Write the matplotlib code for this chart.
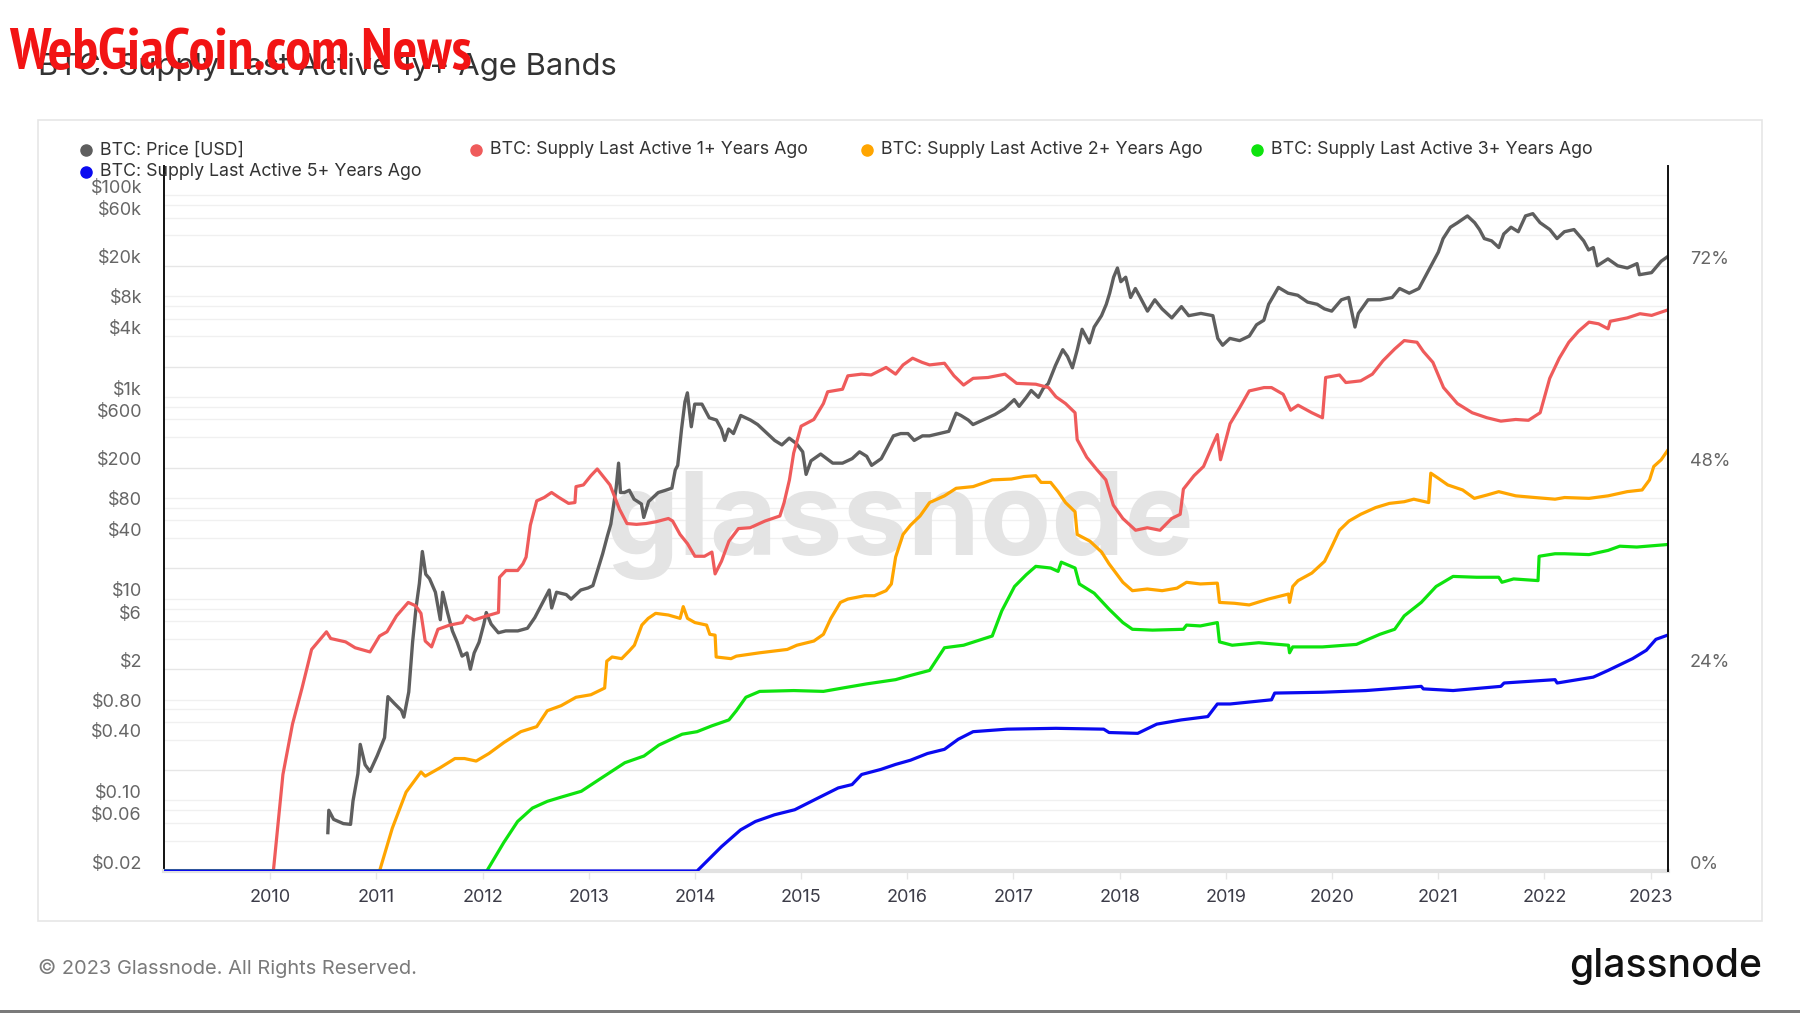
import matplotlib
matplotlib.use("Agg")
import matplotlib.pyplot as plt
from matplotlib.transforms import ScaledTranslation
from matplotlib.patches import Rectangle
from matplotlib.lines import Line2D
from matplotlib import font_manager

plt.rcParams['font.family'] = ['Inter', 'DejaVu Sans']

# ---------------- data (decimal years) ----------------
price_years = [2010.543, 2010.552, 2010.597, 2010.689, 2010.757, 2010.780, 2010.826, 2010.848, 2010.894,
               2010.940, 2011.008, 2011.077, 2011.109, 2011.168, 2011.236, 2011.259, 2011.305, 2011.341,
               2011.373, 2011.405, 2011.433, 2011.465, 2011.501, 2011.556, 2011.602, 2011.624, 2011.670,
               2011.716, 2011.761, 2011.807, 2011.853, 2011.885, 2011.921, 2011.967, 2012.012, 2012.035,
               2012.081, 2012.149, 2012.218, 2012.332, 2012.423, 2012.492, 2012.560, 2012.628, 2012.651,
               2012.697, 2012.788, 2012.834, 2012.925, 2012.994, 2013.039, 2013.085, 2013.131, 2013.176,
               2013.208, 2013.236, 2013.258, 2013.281, 2013.299, 2013.336, 2013.382, 2013.427, 2013.496,
               2013.518, 2013.564, 2013.655, 2013.724, 2013.783, 2013.815, 2013.838, 2013.874, 2013.906,
               2013.929, 2013.966, 2013.998, 2014.066, 2014.135, 2014.203, 2014.249, 2014.281, 2014.317,
               2014.363, 2014.431, 2014.523, 2014.591, 2014.659, 2014.751, 2014.819, 2014.888, 2014.956,
               2015.015, 2015.047, 2015.093, 2015.184, 2015.298, 2015.390, 2015.481, 2015.550, 2015.618,
               2015.664, 2015.755, 2015.823, 2015.869, 2015.938, 2016.006, 2016.065, 2016.143, 2016.209,
               2016.300, 2016.391, 2016.460, 2016.505, 2016.574, 2016.619, 2016.711, 2016.825, 2016.916,
               2017.007, 2017.053, 2017.121, 2017.167, 2017.235, 2017.281, 2017.327, 2017.395, 2017.464,
               2017.509, 2017.555, 2017.601, 2017.646, 2017.715, 2017.760, 2017.829, 2017.874, 2017.906,
               2017.943, 2017.979, 2018.011, 2018.057, 2018.103, 2018.148, 2018.194, 2018.262, 2018.331,
               2018.399, 2018.491, 2018.582, 2018.650, 2018.765, 2018.878, 2018.924, 2018.970, 2019.038,
               2019.130, 2019.221, 2019.289, 2019.358, 2019.403, 2019.495, 2019.586, 2019.677, 2019.769,
               2019.860, 2019.928, 2019.997, 2020.088, 2020.157, 2020.216, 2020.248, 2020.339, 2020.453,
               2020.567, 2020.636, 2020.727, 2020.818, 2020.909, 2021.001, 2021.046, 2021.115, 2021.183,
               2021.275, 2021.343, 2021.389, 2021.434, 2021.503, 2021.571, 2021.617, 2021.686, 2021.754,
               2021.822, 2021.891, 2021.959, 2022.051, 2022.119, 2022.188, 2022.279, 2022.370, 2022.416,
               2022.461, 2022.498, 2022.598, 2022.690, 2022.781, 2022.872, 2022.895, 2023.009, 2023.100,
               2023.160]
price_usd = [0.048, 0.080, 0.065, 0.059, 0.058, 0.099, 0.184, 0.36, 0.226,
             0.194, 0.278, 0.42, 1.07, 0.92, 0.78, 0.67, 1.19, 3.7,
             8.05, 14.2, 29.4, 17.5, 15.8, 11.6, 6.2, 11.6, 7.3,
             4.8, 3.7, 2.7, 2.9, 2.0, 2.9, 3.7, 5.6, 7.3,
             5.6, 4.6, 4.8, 4.8, 5.1, 6.5, 8.9, 12.2, 8.1,
             11.6, 11.0, 9.9, 12.2, 12.8, 13.5, 19.4, 27.9, 42,
             55, 87, 125, 221, 113, 113, 119, 97, 87,
             64, 92, 113, 119, 125, 189, 210, 481, 895,
             1100, 507, 850, 850, 622, 591, 481, 371, 481,
             434, 656, 591, 533, 457, 371, 335, 391, 345,
             286, 171, 233, 272, 221, 221, 245, 286, 258,
             210, 245, 335, 412, 434, 434, 371, 412, 412,
             434, 457, 691, 656, 591, 533, 591, 670, 766,
             942, 807, 993, 1160, 993, 1220, 1355, 2050, 2945,
             2520, 1946, 2945, 4690, 3440, 4940, 6400, 8300, 10700,
             15400, 19000, 13900, 15400, 9700, 11900, 9700, 7100, 9200,
             7480, 6080, 7870, 6400, 6740, 6400, 3810, 3260, 3810,
             3620, 4020, 5200, 5770, 8300, 12200, 10700, 10200, 8730,
             8300, 7480, 7100, 9200, 9700, 4940, 6740, 9200, 9200,
             9700, 11900, 10700, 11900, 18000, 27300, 37200, 48200, 53500,
             62400, 53500, 45700, 37200, 35300, 30300, 41300, 48200, 43500,
             62400, 65700, 53500, 45700, 37200, 43500, 45700, 35300, 28700,
             30300, 20000, 23400, 20000, 19000, 21000, 16300, 17100, 22200,
             24600]

s1_years = [2009.0, 2010.03, 2010.12, 2010.21, 2010.30, 2010.39, 2010.53, 2010.57, 2010.71, 2010.80, 2010.94,
            2011.03, 2011.10, 2011.19, 2011.30, 2011.37, 2011.42, 2011.46, 2011.52, 2011.58, 2011.69,
            2011.81, 2011.85, 2011.92, 2012.04, 2012.15, 2012.16, 2012.22, 2012.33, 2012.38, 2012.41,
            2012.45, 2012.51, 2012.58, 2012.65, 2012.72, 2012.81, 2012.87, 2012.88, 2012.95, 2013.02,
            2013.08, 2013.13, 2013.20, 2013.24, 2013.29, 2013.36, 2013.45, 2013.54, 2013.63, 2013.75,
            2013.79, 2013.86, 2013.93, 2014.00, 2014.09, 2014.16, 2014.19, 2014.25, 2014.32, 2014.41,
            2014.52, 2014.66, 2014.80, 2014.84, 2014.89, 2014.93, 2015.00, 2015.12, 2015.21, 2015.25,
            2015.39, 2015.44, 2015.57, 2015.66, 2015.80, 2015.89, 2015.96, 2016.05, 2016.14, 2016.21,
            2016.35, 2016.44, 2016.53, 2016.62, 2016.76, 2016.92, 2017.03, 2017.21, 2017.33, 2017.40,
            2017.49, 2017.58, 2017.60, 2017.69, 2017.78, 2017.87, 2017.94, 2018.03, 2018.15, 2018.26,
            2018.38, 2018.49, 2018.57, 2018.60, 2018.70, 2018.79, 2018.88, 2018.92, 2018.95, 2019.04,
            2019.13, 2019.22, 2019.36, 2019.43, 2019.54, 2019.61, 2019.68, 2019.81, 2019.91, 2019.94,
            2020.07, 2020.13, 2020.27, 2020.38, 2020.48, 2020.59, 2020.68, 2020.80, 2020.86, 2020.95,
            2021.05, 2021.18, 2021.32, 2021.46, 2021.59, 2021.73, 2021.85, 2021.96, 2022.05, 2022.14,
            2022.23, 2022.32, 2022.42, 2022.51, 2022.60, 2022.62, 2022.78, 2022.90, 2023.01, 2023.15]
s1_pct = [0, 0, 11.5, 17.5, 21.8, 26.4, 28.5, 27.7, 27.3, 26.6, 26.1,
          28.0, 28.5, 30.4, 32.0, 31.6, 30.7, 27.4, 26.7, 28.8, 29.3,
          29.6, 30.4, 29.9, 30.4, 30.8, 35.0, 35.8, 35.8, 36.6, 37.4,
          41.2, 44.1, 44.5, 45.1, 44.5, 43.8, 43.9, 45.8, 46.0, 47.1,
          47.9, 47.1, 46.0, 44.7, 43.1, 41.4, 41.3, 41.4, 41.6, 42.0,
          41.7, 40.1, 39.0, 37.5, 37.5, 38.0, 35.4, 36.9, 39.3, 40.8,
          40.9, 41.7, 42.3, 43.9, 46.6, 49.8, 53.0, 53.8, 55.7, 57.1,
          57.4, 59.0, 59.2, 59.1, 60.0, 59.2, 60.3, 61.1, 60.6, 60.3,
          60.5, 59.0, 57.9, 58.7, 58.8, 59.2, 58.1, 58.0, 57.6, 56.5,
          55.7, 54.6, 51.4, 49.3, 47.9, 46.6, 43.6, 42.0, 40.6, 40.9,
          40.6, 42.0, 42.5, 45.5, 47.1, 48.2, 50.9, 52.0, 49.0, 53.3,
          55.2, 57.2, 57.6, 57.6, 56.8, 54.9, 55.5, 54.6, 54.0, 58.8,
          59.1, 58.2, 58.4, 59.2, 60.8, 62.2, 63.2, 63.0, 61.9, 60.6,
          57.6, 55.7, 54.6, 54.0, 53.6, 53.8, 53.7, 54.6, 58.7, 61.1,
          63.0, 64.3, 65.4, 65.2, 64.6, 65.5, 65.9, 66.4, 66.2, 66.8]

s2_years = [2009.0, 2011.03, 2011.15, 2011.28, 2011.42, 2011.46, 2011.60, 2011.74, 2011.83, 2011.94, 2012.06,
            2012.20, 2012.36, 2012.51, 2012.61, 2012.74, 2012.88, 2013.02, 2013.15, 2013.17, 2013.22,
            2013.31, 2013.38, 2013.43, 2013.50, 2013.56, 2013.63, 2013.75, 2013.86, 2013.89, 2013.93,
            2014.00, 2014.11, 2014.14, 2014.19, 2014.20, 2014.34, 2014.39, 2014.61, 2014.87, 2014.96,
            2015.12, 2015.21, 2015.28, 2015.37, 2015.44, 2015.60, 2015.69, 2015.80, 2015.85, 2015.89,
            2015.96, 2016.03, 2016.12, 2016.21, 2016.35, 2016.46, 2016.62, 2016.80, 2016.98, 2017.10,
            2017.21, 2017.26, 2017.35, 2017.42, 2017.49, 2017.58, 2017.60, 2017.72, 2017.83, 2017.90,
            2018.03, 2018.12, 2018.26, 2018.40, 2018.54, 2018.63, 2018.76, 2018.92, 2018.94, 2019.08,
            2019.22, 2019.40, 2019.59, 2019.60, 2019.63, 2019.68, 2019.81, 2019.93, 2020.00, 2020.07,
            2020.16, 2020.27, 2020.41, 2020.54, 2020.68, 2020.77, 2020.91, 2020.93, 2021.00, 2021.09,
            2021.23, 2021.34, 2021.46, 2021.57, 2021.73, 2021.91, 2022.10, 2022.19, 2022.42, 2022.60,
            2022.78, 2022.92, 2022.99, 2023.03, 2023.10, 2023.16]
s2_pct = [0, 0, 5.1, 9.4, 11.8, 11.3, 12.3, 13.4, 13.4, 13.1, 14.0,
          15.3, 16.6, 17.2, 19.1, 19.7, 20.7, 21.0, 21.8, 25.0, 25.5,
          25.3, 26.2, 26.9, 29.3, 30.1, 30.7, 30.5, 30.1, 31.5, 30.1,
          29.6, 29.3, 28.2, 28.1, 25.5, 25.3, 25.6, 26.0, 26.4, 26.9,
          27.4, 28.2, 30.1, 32.0, 32.4, 32.8, 32.8, 33.4, 34.2, 37.4,
          40.1, 41.2, 42.3, 43.9, 44.7, 45.6, 45.8, 46.6, 46.7, 47.0,
          47.1, 46.3, 46.3, 45.2, 43.9, 42.8, 40.1, 39.3, 38.0, 36.6,
          34.4, 33.4, 33.6, 33.4, 33.7, 34.4, 34.2, 34.3, 32.0, 31.9,
          31.7, 32.4, 33.0, 32.0, 33.9, 34.6, 35.5, 36.9, 38.7, 40.6,
          41.7, 42.5, 43.3, 43.8, 44.0, 44.3, 43.9, 47.4, 46.8, 46.0,
          45.4, 44.4, 44.8, 45.2, 44.7, 44.5, 44.3, 44.5, 44.4, 44.7,
          45.2, 45.4, 46.6, 48.2, 49.0, 50.1]

s3_years = [2009.0, 2012.04, 2012.20, 2012.33, 2012.47, 2012.61, 2012.74, 2012.93, 2013.11, 2013.34, 2013.52,
            2013.66, 2013.88, 2014.02, 2014.16, 2014.32, 2014.39, 2014.48, 2014.61, 2014.93, 2015.21,
            2015.39, 2015.62, 2015.89, 2016.03, 2016.21, 2016.35, 2016.53, 2016.80, 2016.89, 2017.01,
            2017.12, 2017.21, 2017.35, 2017.42, 2017.45, 2017.58, 2017.62, 2017.76, 2017.90, 2018.03,
            2018.12, 2018.31, 2018.60, 2018.63, 2018.76, 2018.92, 2018.94, 2019.06, 2019.31, 2019.59,
            2019.60, 2019.63, 2019.91, 2020.23, 2020.45, 2020.59, 2020.68, 2020.84, 2020.98, 2021.14,
            2021.36, 2021.57, 2021.60, 2021.71, 2021.94, 2021.95, 2022.10, 2022.19, 2022.42, 2022.60,
            2022.71, 2022.87, 2023.16]
s3_pct = [0, 0, 3.4, 5.9, 7.5, 8.3, 8.8, 9.5, 11.0, 12.9, 13.7,
          15.0, 16.3, 16.6, 17.3, 18.0, 19.1, 20.7, 21.4, 21.5, 21.4,
          21.8, 22.3, 22.8, 23.3, 23.9, 26.6, 26.9, 28.0, 31.0, 33.9,
          35.3, 36.3, 36.1, 35.7, 36.8, 36.1, 34.2, 33.1, 31.2, 29.6,
          28.8, 28.7, 28.8, 29.3, 29.2, 29.6, 27.3, 26.9, 27.2, 26.9,
          26.0, 26.7, 26.7, 27.0, 28.2, 28.8, 30.4, 32.0, 33.9, 35.1,
          35.0, 35.0, 34.4, 34.8, 34.6, 37.5, 37.8, 37.8, 37.7, 38.2,
          38.7, 38.6, 38.9]

s5_years = [2009.0, 2014.02, 2014.25, 2014.43, 2014.57, 2014.75, 2014.94, 2015.16, 2015.35, 2015.48, 2015.57,
            2015.75, 2015.89, 2016.03, 2016.19, 2016.35, 2016.48, 2016.62, 2016.94, 2017.40, 2017.85,
            2017.90, 2018.17, 2018.35, 2018.58, 2018.83, 2018.92, 2019.04, 2019.43, 2019.46, 2019.91,
            2020.32, 2020.84, 2020.86, 2021.14, 2021.59, 2021.62, 2022.10, 2022.12, 2022.46, 2022.60,
            2022.83, 2022.96, 2023.05, 2023.16]
s5_pct = [0, 0, 2.9, 4.9, 5.9, 6.7, 7.3, 8.7, 9.9, 10.3, 11.5,
          12.1, 12.7, 13.2, 14.0, 14.5, 15.7, 16.6, 16.9, 17.0, 16.9,
          16.5, 16.4, 17.5, 18.0, 18.4, 19.9, 19.9, 20.4, 21.2, 21.3,
          21.5, 22.0, 21.7, 21.5, 22.0, 22.4, 22.8, 22.4, 23.1, 23.9,
          25.3, 26.3, 27.6, 28.1]

year_ticks = list(range(2010, 2024))
price_ticks = [0.02, 0.06, 0.10, 0.40, 0.80, 2, 6, 10, 40, 80, 200, 600, 1000, 4000, 8000, 20000, 60000, 100000]
price_tick_labels = ['$0.02', '$0.06', '$0.10', '$0.40', '$0.80', '$2', '$6', '$10', '$40', '$80', '$200',
                     '$600', '$1k', '$4k', '$8k', '$20k', '$60k', '$100k']
pct_ticks = [0, 24, 48, 72]
pct_tick_labels = ['0%', '24%', '48%', '72%']

series_names = ['BTC: Price [USD]', 'BTC: Supply Last Active 1+ Years Ago', 'BTC: Supply Last Active 2+ Years Ago',
                'BTC: Supply Last Active 3+ Years Ago', 'BTC: Supply Last Active 5+ Years Ago']
colors = ['#5e5e5e', '#ef5b5b', '#ffa500', '#0ee30e', '#0a0af0']

# ---------------- figure ----------------
W, H = 1800, 1013
fig = plt.figure(figsize=(W / 100, H / 100), dpi=100)
fig.patch.set_facecolor('white')
renderer = fig.canvas.get_renderer()


def fx(px):
    return px / W


def fy(py):
    return 1 - py / H


def fit_width(txt, target_px):
    w = txt.get_window_extent(renderer=renderer).width
    if w > 0:
        txt.set_fontsize(txt.get_fontsize() * target_px / w)


def find_condensed_bold():
    best = None
    for f in font_manager.fontManager.ttflist:
        name = (f.name + ' ' + f.fname).lower()
        if ('condensed' in name or 'narrow' in name or 'cond' in name) and \
                (f.weight in ('bold', 700, 800, 900, 'heavy', 'black') or 'bold' in f.fname.lower()):
            if 'oblique' in f.fname.lower() or 'italic' in f.fname.lower():
                continue
            best = f.fname
            if 'narrow' in name:
                break
    return best


# card border
fig.patches.append(Rectangle((fx(38), fy(921)), fx(1762) - fx(38), fy(120) - fy(921),
                             transform=fig.transFigure, fill=False, edgecolor='#e6e6e6', linewidth=1.2, zorder=0))
# bottom dark strip
fig.patches.append(Rectangle((0, 0), 1, 3 / H, transform=fig.transFigure, facecolor='#7a7a7a',
                             edgecolor='none', zorder=0))

L, R, T, B = 164, 1668, 166, 871
ax = fig.add_axes([fx(L), fy(B), fx(R) - fx(L), fy(T) - fy(B)])
ax.set_yscale('log')
ax.set_xlim(2009.0, 2023.164)
ax.set_ylim(0.02, 195000)

# horizontal grid
for e in range(-2, 6):
    for m in (1, 2, 4, 6, 8):
        v = m * 10.0 ** e
        if 0.02 <= v <= 100000:
            ax.axhline(v, color='#e6e6e6' if m == 2 else '#f0f0f0', linewidth=1.0, zorder=0)

wm = ax.text(0.489, 0.49, 'glassnode', transform=ax.transAxes, fontsize=84, fontweight='bold',
             color='#e4e4e4', ha='center', va='center', zorder=0.5)
fit_width(wm, 589)

ax.plot(price_years, price_usd, color=colors[0], linewidth=2.4, zorder=2, solid_joinstyle='round')

ax.set_yticks(price_ticks)
ax.set_yticklabels(price_tick_labels)
ax.yaxis.set_minor_locator(matplotlib.ticker.NullLocator())
ax.tick_params(axis='y', length=0, pad=15.8, labelsize=13, labelcolor='#666666')
ax.set_xticks(year_ticks)
ax.set_xticklabels([str(y) for y in year_ticks])
ax.tick_params(axis='x', length=6, width=1, color='#e6e6e6', pad=7, labelsize=13, labelcolor='#3c3c48')

for sp in ('top', 'right'):
    ax.spines[sp].set_visible(False)
ax.spines['left'].set_color('#111111')
ax.spines['left'].set_linewidth(1.4)
ax.spines['bottom'].set_color('#e2e2e2')
ax.spines['bottom'].set_linewidth(3)

ax2 = ax.twinx()
ax2.set_ylim(0, 84)
ax2.plot(s1_years, s1_pct, color=colors[1], linewidth=2.3, solid_joinstyle='round')
ax2.plot(s2_years, s2_pct, color=colors[2], linewidth=2.3, solid_joinstyle='round')
ax2.plot(s3_years, s3_pct, color=colors[3], linewidth=2.3, solid_joinstyle='round')
ax2.plot(s5_years, s5_pct, color=colors[4], linewidth=2.3, solid_joinstyle='round')
ax2.set_yticks(pct_ticks)
ax2.set_yticklabels(pct_tick_labels)
ax2.tick_params(axis='y', length=0, pad=15.8, labelsize=13, labelcolor='#666666')
for sp in ('top', 'left', 'bottom'):
    ax2.spines[sp].set_visible(False)
ax2.spines['right'].set_color('#111111')
ax2.spines['right'].set_linewidth(1.4)

off = ScaledTranslation(0, 9 / 100, fig.dpi_scale_trans)
for lab in ax.get_yticklabels() + ax2.get_yticklabels():
    lab.set_transform(lab.get_transform() + off)

# legend (manual)
legend_pos = [(86, 150), (476, 150), (867, 150), (1257, 150), (86, 172)]
for (px, py), name, c in zip(legend_pos, series_names, colors):
    fig.lines.append(Line2D([fx(px)], [fy(py)], transform=fig.transFigure, marker='o', markersize=8,
                            markerfacecolor=c, markeredgecolor=c, linestyle='none'))
    fig.text(fx(px + 14), fy(py), name, fontsize=12.8, color='#333333', ha='left', va='center')

# title and watermark
title = fig.text(fx(38), fy(67), 'BTC: Supply Last Active 1y+ Age Bands', fontsize=22, color='#333333',
                 ha='left', va='center')
fit_width(title, 578)

cond = find_condensed_bold()
if cond:
    red = fig.text(fx(9), fy(55), 'WebGiaCoin.com News', fontsize=36, color='#f21414',
                   fontproperties=font_manager.FontProperties(fname=cond, size=36),
                   ha='left', va='center')
else:
    red = fig.text(fx(9), fy(55), 'WebGiaCoin.com News', fontsize=28, fontweight='bold', color='#f21414',
                   family=['DejaVu Sans'], fontstretch='condensed', ha='left', va='center')
fit_width(red, 463)

# footer
foot = fig.text(fx(38), fy(968), '\u00a9 2023 Glassnode. All Rights Reserved.', fontsize=14.4, color='#7a7a7a',
                ha='left', va='center')
fit_width(foot, 379)
logo = fig.text(fx(1762), fy(966), 'glassnode', fontsize=28.7, fontweight='medium', color='#111111',
                ha='right', va='center')
fit_width(logo, 192)

fig.savefig('out.png', dpi=100, facecolor='white')
